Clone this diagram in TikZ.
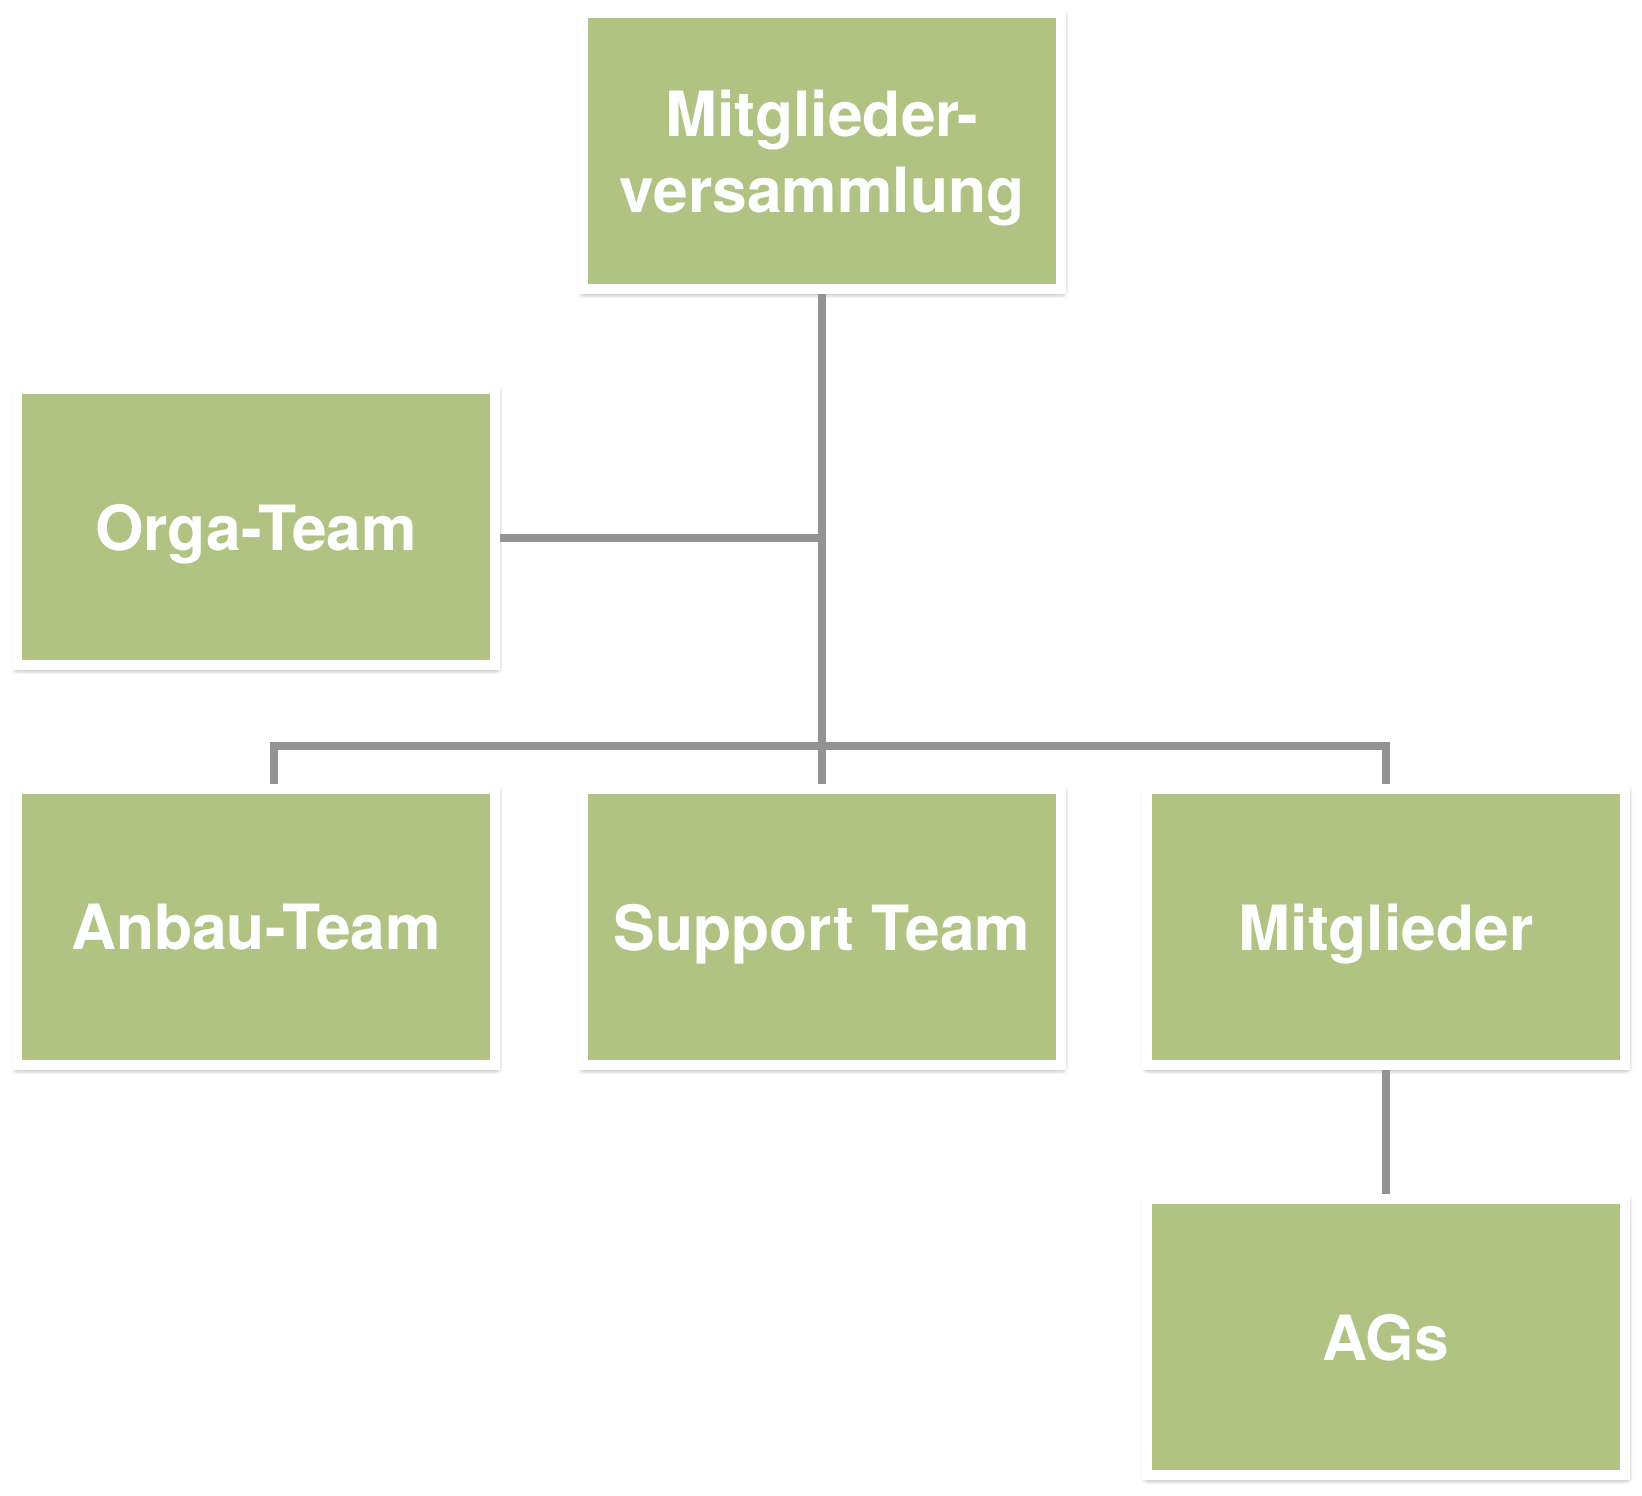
\documentclass[tikz,border=0pt]{standalone}
\usepackage{fontspec}
\setmainfont{TeX Gyre Heros}
\usetikzlibrary{shadows.blur}
\definecolor{boxgreen}{RGB}{176,195,131}
\definecolor{linegray}{RGB}{147,147,147}
\begin{document}
\begin{tikzpicture}[x=0.02cm, y=-0.02cm,
        orgbox/.style={rectangle, draw=white, line width=0.2cm, fill=boxgreen,
            minimum width=9.56cm, minimum height=5.52cm, inner sep=0pt,
            text=white, align=center, text depth=0pt,
            font=\fontsize{35.5pt}{43pt}\selectfont\bfseries,
            blur shadow={shadow xshift=0.5pt, shadow yshift=-1.5pt,
                shadow blur radius=4pt, shadow blur steps=8, shadow opacity=60}},
        link/.style={draw=linegray, line width=0.16cm}]
        \useasboundingbox (0,0) rectangle (1642,1496);
        % boxes
        \node[orgbox] (mv) at (822,151) {Mitglieder-\\versammlung};
        \node[orgbox] (orga) at (256,527) {Orga-Team};
        \node[orgbox] (anbau) at (256,927) {Anbau-Team};
        \node[orgbox] (support) at (822,927) {Support Team};
        \node[orgbox] (mitglieder) at (1386,927) {Mitglieder};
        \node[orgbox] (ags) at (1386,1337) {AGs};
        % connectors
        \coordinate (orgajoin) at (822,538);
        \coordinate (busleft) at (274,746);
        \coordinate (busright) at (1386,746);
        \draw[link] (mv.south) -- (support.north);
        \draw[link] (orga.east |- orgajoin) -- (orgajoin);
        \draw[link] (anbau.north -| busleft) -- (busleft) -- (busright) -- (mitglieder.north);
        \draw[link] (mitglieder.south) -- (ags.north);
    \end{tikzpicture}
\end{document}
